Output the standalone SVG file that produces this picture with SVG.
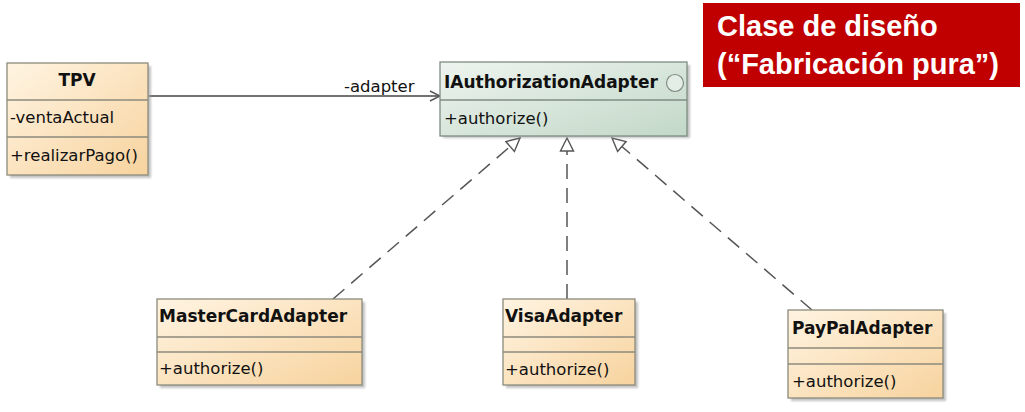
<svg xmlns="http://www.w3.org/2000/svg" width="1025" height="412" viewBox="0 0 1025 412">
<defs>
<linearGradient id="gCls" x1="0" y1="0" x2="1" y2="1">
<stop offset="0" stop-color="#FFF4E2"/>
<stop offset="1" stop-color="#F7D39E"/>
</linearGradient>
<linearGradient id="gInt" x1="0" y1="0" x2="1" y2="1">
<stop offset="0" stop-color="#EEF4EF"/>
<stop offset="1" stop-color="#C2D8C8"/>
</linearGradient>
<filter id="blur" x="-10%" y="-10%" width="120%" height="120%"><feGaussianBlur stdDeviation="1.2"/></filter>
<marker id="open" viewBox="0 0 12 12" refX="11" refY="6" markerWidth="12" markerHeight="12" markerUnits="userSpaceOnUse" orient="auto">
<path d="M1,1 L11,6 L1,11" fill="none" stroke="#555" stroke-width="1.4"/>
</marker>
<marker id="tri" viewBox="0 0 16 16" refX="15" refY="8" markerWidth="16" markerHeight="16" markerUnits="userSpaceOnUse" orient="auto">
<path d="M15,8 L2,1.5 L2,14.5 Z" fill="#fff" stroke="#555" stroke-width="1.4"/>
</marker>
</defs>
<style>
.sh{fill:#9a9a9a;opacity:.6;filter:url(#blur)}
.cls{fill:url(#gCls);stroke:#8c8a7c;stroke-width:1.3}
.int{fill:url(#gInt);stroke:#7f8c82;stroke-width:1.3}
.div{stroke:#8c8a7c;stroke-width:1.3}
.t{font-family:"DejaVu Sans",Verdana,sans-serif;font-size:16.5px;fill:#111}
.b{font-family:"DejaVu Sans",Verdana,sans-serif;font-size:17px;font-weight:bold;fill:#111}
.dash{fill:none;stroke:#555;stroke-width:1.5;stroke-dasharray:15 9}
.title{font-family:"Liberation Sans",Arial,sans-serif;font-size:29px;font-weight:bold;fill:#fff}
</style>
<rect width="1025" height="412" fill="#fff"/>

<g id="connectors">
<line x1="149" y1="96" x2="440" y2="96" stroke="#444" stroke-width="1.4" marker-end="url(#open)"/>
<text class="t" x="344" y="92">-adapter</text>
<line class="dash" x1="333" y1="299" x2="520" y2="138" marker-end="url(#tri)"/>
<line class="dash" x1="567" y1="299" x2="567" y2="138" marker-end="url(#tri)"/>
<line class="dash" x1="812" y1="310" x2="612" y2="138" marker-end="url(#tri)"/>
</g>

<g id="TPV">
<rect class="sh" x="10" y="66" width="141" height="112"/>
<rect class="cls" x="7" y="63" width="141" height="112"/>
<line class="div" x1="7" y1="100" x2="148" y2="100"/>
<line class="div" x1="7" y1="137" x2="148" y2="137"/>
<text class="b" x="77" y="86" text-anchor="middle">TPV</text>
<text class="t" x="10" y="123">-ventaActual</text>
<text class="t" x="10" y="161">+realizarPago()</text>
</g>

<g id="IAuthorizationAdapter">
<rect class="sh" x="443" y="65" width="247" height="73"/>
<rect class="int" x="440" y="62" width="247" height="74"/>
<line class="div" x1="440" y1="100" x2="687" y2="100" style="stroke:#7f8c82"/>
<text class="b" x="444" y="88">IAuthorizationAdapter</text>
<circle cx="675" cy="83" r="8.5" fill="#E4EEE6" stroke="#7f8c82" stroke-width="1.2"/>
<text class="t" x="444" y="124">+authorize()</text>
</g>

<g id="MasterCardAdapter">
<rect class="sh" x="160" y="302" width="205" height="86"/>
<rect class="cls" x="157" y="299" width="205" height="86"/>
<line class="div" x1="157" y1="337" x2="362" y2="337"/>
<line class="div" x1="157" y1="352" x2="362" y2="352"/>
<text class="b" x="159" y="322">MasterCardAdapter</text>
<text class="t" x="159" y="374">+authorize()</text>
</g>

<g id="VisaAdapter">
<rect class="sh" x="506" y="302" width="132" height="86"/>
<rect class="cls" x="503" y="299" width="132" height="86"/>
<line class="div" x1="503" y1="337" x2="635" y2="337"/>
<line class="div" x1="503" y1="352" x2="635" y2="352"/>
<text class="b" x="505" y="322">VisaAdapter</text>
<text class="t" x="505" y="375">+authorize()</text>
</g>

<g id="PayPalAdapter">
<rect class="sh" x="791" y="313" width="155" height="88"/>
<rect class="cls" x="788" y="310" width="155" height="88"/>
<line class="div" x1="788" y1="348" x2="943" y2="348"/>
<line class="div" x1="788" y1="364" x2="943" y2="364"/>
<text class="b" x="792" y="334">PayPalAdapter</text>
<text class="t" x="792" y="387">+authorize()</text>
</g>

<g id="title">
<rect x="703" y="3" width="317" height="84" fill="#C00000"/>
<text class="title" x="717" y="36">Clase de diseño</text>
<text class="title" x="717" y="74">(“Fabricación pura”)</text>
</g>
</svg>
